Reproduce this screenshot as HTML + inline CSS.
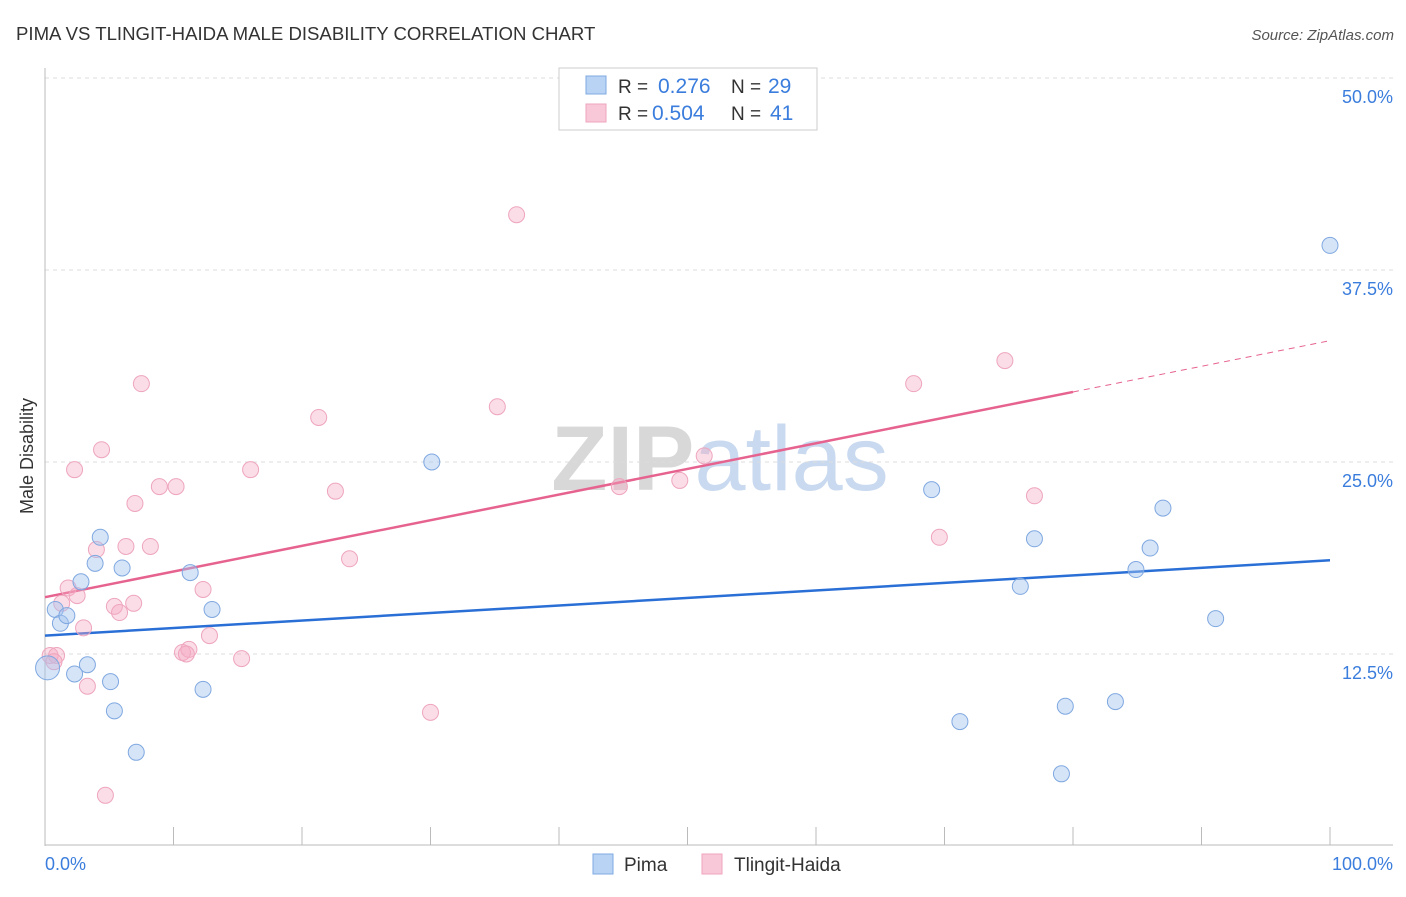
<!DOCTYPE html>
<html><head><meta charset="utf-8">
<style>
body{margin:0;background:#fff;font-family:"Liberation Sans",sans-serif;}
svg text{font-family:"Liberation Sans",sans-serif;}
</style></head>
<body>
<svg id="chart" width="1406" height="892">
<text x="16" y="40" font-size="18.6" fill="#333">PIMA VS TLINGIT-HAIDA MALE DISABILITY CORRELATION CHART</text>
<text x="1394" y="40" font-size="15" fill="#555" font-style="italic" text-anchor="end">Source: ZipAtlas.com</text>
<text x="720" y="490" font-size="92" fill="#ddd" text-anchor="middle" font-family="Liberation Serif"><tspan font-weight="bold" fill="#d8d8d8">ZIP</tspan><tspan fill="#c9d9ef" font-family="Liberation Sans">atlas</tspan></text>
<text transform="translate(33,456) rotate(-90)" font-size="18" fill="#333" text-anchor="middle">Male Disability</text>
<g id="grid"></g><g id="axes"></g><g id="trends"></g><g id="pts"></g>
<g>
<rect x="559" y="68" width="258" height="62" fill="#fff" stroke="#ccc"/>
<rect x="586" y="76" width="20" height="18" fill="#b9d3f5" stroke="#7fa8e0"/>
<rect x="586" y="104" width="20" height="18" fill="#f9c8d8" stroke="#eea5bd"/>
<text x="618" y="93" font-size="19" fill="#333">R = </text><text x="658" y="93" font-size="21" fill="#3b7ddd">0.276</text>
<text x="731" y="93" font-size="19" fill="#333">N = </text><text x="768" y="93" font-size="21" fill="#3b7ddd">29</text>
<text x="618" y="120" font-size="19" fill="#333">R = </text><text x="652" y="120" font-size="21" fill="#3b7ddd">0.504</text>
<text x="731" y="120" font-size="19" fill="#333">N = </text><text x="770" y="120" font-size="21" fill="#3b7ddd">41</text>
</g>
<g>
<rect x="593" y="854" width="20" height="20" fill="#b9d3f5" stroke="#7fa8e0"/>
<text x="624" y="871" font-size="19" fill="#333">Pima</text>
<rect x="702" y="854" width="20" height="20" fill="#f9c8d8" stroke="#eea5bd"/>
<text x="734" y="871" font-size="19" fill="#333">Tlingit-Haida</text>
</g>
</svg>
<script>
const yTicks=[12.5,25,37.5,50];
const yTickLabels=["12.5%","25.0%","37.5%","50.0%"];
const xTickLabels=["0.0%","100.0%"];
const pimaX=[0.8,1.2,1.7,2.8,3.9,4.3,6.0,3.3,2.3,5.1,5.4,7.1,11.3,13.0,12.3,30.1,100,69.0,87.0,77.0,86.0,84.9,75.9,91.1,71.2,79.4,83.3,79.1,0.2];
const pimaY=[15.4,14.5,15.0,17.2,18.4,20.1,18.1,11.8,11.2,10.7,8.8,6.1,17.8,15.4,10.2,25.0,39.1,23.2,22.0,20.0,19.4,18.0,16.9,14.8,8.1,9.1,9.4,4.7,11.6];
const tlX=[36.7,7.5,74.7,67.6,35.2,21.3,4.4,2.3,16.0,8.9,10.2,22.6,7.0,44.7,49.4,51.3,77.0,69.6,4.0,6.3,8.2,23.7,1.8,2.5,1.3,5.4,6.9,5.8,12.3,3.0,12.8,10.7,11.2,11.0,15.3,0.4,0.9,0.7,3.3,30.0,4.7];
const tlY=[41.1,30.1,31.6,30.1,28.6,27.9,25.8,24.5,24.5,23.4,23.4,23.1,22.3,23.4,23.8,25.4,22.8,20.1,19.3,19.5,19.5,18.7,16.8,16.3,15.8,15.6,15.8,15.2,16.7,14.2,13.7,12.6,12.8,12.5,12.2,12.4,12.4,12.0,10.4,8.7,3.3];
const pimaTrend=[13.7,18.6];
const tlTrend=[16.2,32.9];
const NS="http://www.w3.org/2000/svg";
const X=v=>45+v*12.85, Y=v=>846-v*192/12.5;
function mk(t,a,p){const e=document.createElementNS(NS,t);for(const k in a)e.setAttribute(k,a[k]);p.appendChild(e);return e;}
const grid=document.getElementById('grid'),axes=document.getElementById('axes');
yTicks.forEach((t,i)=>{
 const l=mk('line',{x1:45,x2:1393,y1:Y(t),y2:Y(t),stroke:'#ddd','stroke-dasharray':'4,4'},grid);
 
 
 const tx=mk('text',{x:1393,y:Y(t)+25,'font-size':18,fill:'#3b7ddd','text-anchor':'end'},axes);
 tx.textContent=yTickLabels[i];
 
 
});
mk('line',{x1:45,x2:45,y1:68,y2:846,stroke:'#bbb'},axes);
mk('line',{x1:45,x2:1393,y1:845,y2:845,stroke:'#bbb'},axes);
for(let i=0;i<=10;i++){mk('line',{x1:X(i*10),x2:X(i*10),y1:827,y2:845,stroke:'#bbb'},axes);}
[[0,'start',45],[1,'end',1393]].forEach(([i,a,x])=>{const t=mk('text',{x:x,y:870,'font-size':18,fill:'#3b7ddd','text-anchor':a},axes);t.textContent=xTickLabels[i];
 
 });
const tr=document.getElementById('trends');
const b=mk('line',{x1:X(0),y1:Y(pimaTrend[0]),x2:X(100),y2:Y(pimaTrend[1]),stroke:'#2a6fd6','stroke-width':2.5},tr);


const py=x=>tlTrend[0]+(tlTrend[1]-tlTrend[0])*x/100;
const p1=mk('line',{x1:X(0),y1:Y(py(0)),x2:X(80),y2:Y(py(80)),stroke:'#e6628f','stroke-width':2.5},tr);


const p2=mk('line',{x1:X(80),y1:Y(py(80)),x2:X(100),y2:Y(py(100)),stroke:'#e6628f','stroke-width':1,'stroke-dasharray':'6,5'},tr);


const pts=document.getElementById('pts');
tlX.forEach((x,i)=>{const c=mk('circle',{cx:X(x),cy:Y(tlY[i]),r:8,fill:'rgba(244,170,195,0.4)',stroke:'#eea5bd','stroke-width':1},pts);
 
 });
pimaX.forEach((x,i)=>{const c=mk('circle',{cx:X(x),cy:Y(pimaY[i]),r:i==pimaX.length-1?12:8,fill:'rgba(164,196,240,0.45)',stroke:'#7fa8e0','stroke-width':1},pts);
 
 });
</script>
</body></html>
